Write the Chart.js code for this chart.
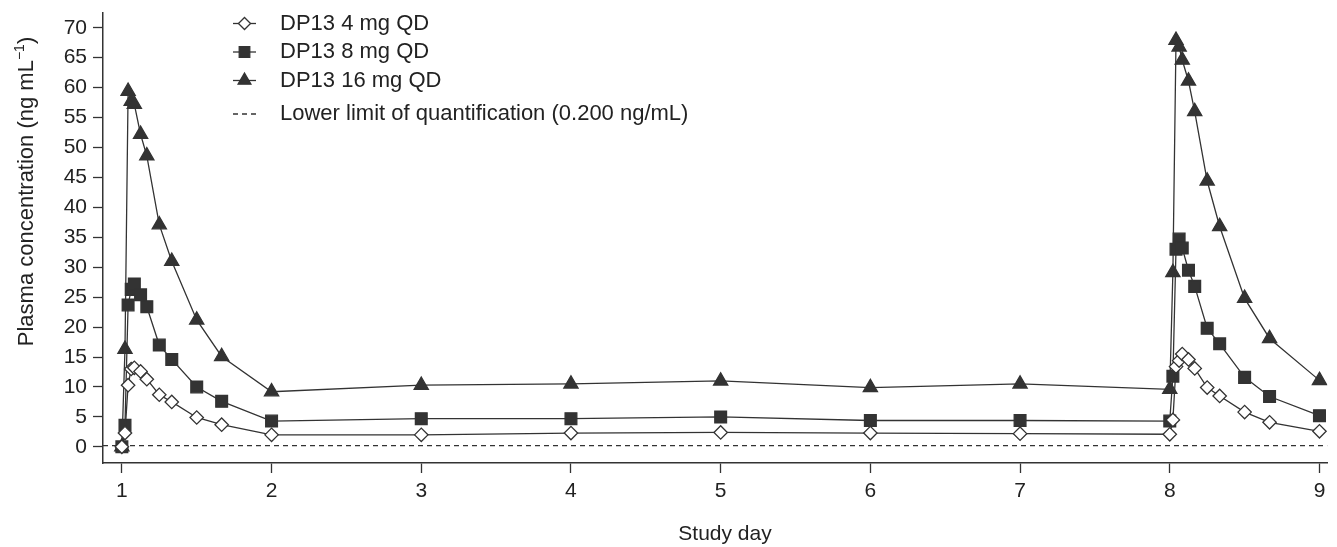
<!DOCTYPE html>
<html>
<head>
<meta charset="utf-8">
<script src="https://cdn.jsdelivr.net/npm/chart.js@4.4.0/dist/chart.umd.min.js"></script>
<style>
  html, body { margin: 0; background: #fff; }
  #wrap { width: 1337px; height: 547px; }
</style>
</head>
<body>
<div id="wrap"><canvas id="chart" width="1337" height="547"></canvas></div>
<script>
// Sampling scheme: day 1 profile (hours after dose), trough days, day 8 profile
const doseHours  = [0, 0.5, 1, 1.5, 2, 3, 4, 6, 8, 12, 16, 24];
const troughDays = [3, 4, 5, 6, 7];
const xTicks     = [1, 2, 3, 4, 5, 6, 7, 8, 9];
const yTicks     = [0, 5, 10, 15, 20, 25, 30, 35, 40, 45, 50, 55, 60, 65, 70];
const lloqValue  = 0.2;

// DP13 4 mg QD (ng/mL)
const dp4Day1   = [0, 2.3, 10.3, 13.0, 13.2, 12.6, 11.3, 8.7, 7.5, 4.9, 3.7, 2.0];
const dp4Trough = [2.0, 2.3, 2.4, 2.3, 2.2];
const dp4Day8   = [2.1, 4.5, 13.4, 14.4, 15.5, 14.6, 13.1, 9.9, 8.5, 5.8, 4.1, 2.6];

// DP13 8 mg QD
const dp8Day1   = [0, 3.6, 23.7, 26.3, 27.2, 25.4, 23.4, 17.0, 14.6, 10.0, 7.6, 4.3];
const dp8Trough = [4.7, 4.7, 5.0, 4.4, 4.4];
const dp8Day8   = [4.3, 11.8, 33.0, 34.7, 33.2, 29.5, 26.8, 19.8, 17.2, 11.6, 8.4, 5.2];

// DP13 16 mg QD
const dp16Day1   = [0, 16.3, 59.4, 57.7, 57.2, 52.2, 48.6, 37.1, 31.0, 21.2, 15.1, 9.2];
const dp16Trough = [10.3, 10.5, 11.0, 9.9, 10.5];
const dp16Day8   = [9.6, 29.1, 67.9, 66.8, 64.6, 61.1, 56.0, 44.4, 36.8, 24.8, 18.1, 11.1];

const FONT = "'Liberation Sans', Arial, Helvetica, sans-serif";
const INK  = '#333';
const X_MIN = 0.874, X_MAX = 9.053;
const Y_MIN = -2.7,  Y_MAX = 72.46;

function profile(day1, trough, day8) {
  const pts = [];
  doseHours.forEach((h, i) => pts.push({ x: 1 + h / 24, y: day1[i] }));
  troughDays.forEach((d, i) => pts.push({ x: d, y: trough[i] }));
  doseHours.forEach((h, i) => pts.push({ x: 8 + h / 24, y: day8[i] }));
  return pts;
}

const series = [
  { label: 'DP13 4 mg QD',  data: profile(dp4Day1, dp4Trough, dp4Day8),    style: 'rectRot',  r: 6.7, fill: '#fff' },
  { label: 'DP13 8 mg QD',  data: profile(dp8Day1, dp8Trough, dp8Day8),    style: 'rect',     r: 8.3, fill: INK },
  { label: 'DP13 16 mg QD', data: profile(dp16Day1, dp16Trough, dp16Day8), style: 'triangle', r: 8.2, fill: INK }
];

const datasets = series.map(s => ({
  label: s.label,
  data: s.data,
  borderColor: INK,
  borderWidth: 1.3,
  pointStyle: s.style,
  pointRadius: s.r,
  pointHoverRadius: s.r,
  pointBackgroundColor: s.fill,
  pointBorderColor: INK,
  pointBorderWidth: 1.3,
  tension: 0,
  fill: false
}));

datasets.push({
  label: 'Lower limit of quantification (0.200 ng/mL)',
  data: [{ x: X_MIN, y: lloqValue }, { x: X_MAX, y: lloqValue }],
  borderColor: INK,
  borderWidth: 1.3,
  borderDash: [5, 4],
  pointRadius: 0,
  fill: false
});

function drawMarker(ctx, style, x, y, r, fill) {
  ctx.beginPath();
  if (style === 'rectRot') {
    ctx.moveTo(x - r, y); ctx.lineTo(x, y - r); ctx.lineTo(x + r, y); ctx.lineTo(x, y + r);
    ctx.closePath();
  } else if (style === 'rect') {
    const s = r * Math.SQRT1_2;
    ctx.rect(x - s, y - s, 2 * s, 2 * s);
  } else {
    ctx.moveTo(x, y - r); ctx.lineTo(x + r * 0.866, y + r / 2); ctx.lineTo(x - r * 0.866, y + r / 2);
    ctx.closePath();
  }
  ctx.fillStyle = fill; ctx.fill();
  ctx.lineWidth = 1.3; ctx.strokeStyle = INK; ctx.stroke();
}

// legend, axis titles drawn by hand (line-with-marker samples, superscript)
const annotations = {
  id: 'annotations',
  afterDraw(chart) {
    const ctx = chart.ctx;
    ctx.save();
    const rows = [23.5, 52, 80.5];
    const lx0 = 233, lx1 = 256, tx = 280;
    ctx.font = '22px ' + FONT;
    ctx.textBaseline = 'middle';
    ctx.textAlign = 'left';
    series.forEach((s, i) => {
      const y = rows[i];
      ctx.beginPath(); ctx.moveTo(lx0, y); ctx.lineTo(lx1, y);
      ctx.lineWidth = 1.3; ctx.strokeStyle = INK; ctx.stroke();
      drawMarker(ctx, s.style, (lx0 + lx1) / 2, y, s.r * 0.9, s.fill);
      ctx.fillStyle = '#222';
      ctx.fillText(s.label, tx, y);
    });
    const ly = 114;
    ctx.beginPath(); ctx.setLineDash([5, 4]); ctx.moveTo(lx0, ly); ctx.lineTo(lx1 + 2, ly);
    ctx.lineWidth = 1.3; ctx.stroke(); ctx.setLineDash([]);
    ctx.fillText(datasets[3].label, tx, ly);

    // x axis title
    ctx.font = '21px ' + FONT;
    ctx.textAlign = 'center';
    ctx.fillText('Study day', 725, 534);
    ctx.textAlign = 'left';

    // y axis title
    const main = 'Plasma concentration (ng mL', sup = '\u22121', tail = ')';
    ctx.translate(27, 191.5);
    ctx.rotate(-Math.PI / 2);
    ctx.font = '22px ' + FONT;
    const wMain = ctx.measureText(main).width, wTail = ctx.measureText(tail).width;
    ctx.font = '14px ' + FONT;
    const wSup = ctx.measureText(sup).width;
    let x = -(wMain + wSup + wTail) / 2;
    ctx.font = '22px ' + FONT;
    ctx.fillText(main, x, 0); x += wMain;
    ctx.font = '14px ' + FONT;
    ctx.fillText(sup, x, -7); x += wSup;
    ctx.font = '22px ' + FONT;
    ctx.fillText(tail, x, 0);
    ctx.restore();
  }
};

new Chart(document.getElementById('chart').getContext('2d'), {
  type: 'line',
  data: { datasets },
  plugins: [annotations],
  options: {
    responsive: false,
    animation: false,
    devicePixelRatio: 1,
    layout: { padding: { top: 13, right: 0, bottom: 0, left: 0 } },
    plugins: { legend: { display: false }, tooltip: { enabled: false } },
    scales: {
      x: {
        type: 'linear',
        min: X_MIN,
        max: X_MAX,
        afterFit: s => { s.height = 84; s.paddingLeft = 0; s.paddingRight = 0; },
        afterBuildTicks: s => { s.ticks = xTicks.map(v => ({ value: v })); },
        border: { display: true, color: INK, width: 1.5 },
        grid: { drawOnChartArea: false, drawTicks: true, tickLength: 10, tickColor: INK, tickWidth: 1.3 },
        ticks: { color: '#222', padding: 6, maxRotation: 0, font: { family: FONT, size: 21 } }
      },
      y: {
        type: 'linear',
        min: Y_MIN,
        max: Y_MAX,
        afterFit: s => { s.width = 103; s.paddingTop = 0; s.paddingBottom = 0; },
        afterBuildTicks: s => { s.ticks = yTicks.map(v => ({ value: v })); },
        border: { display: true, color: INK, width: 1.5 },
        grid: { drawOnChartArea: false, drawTicks: true, tickLength: 10, tickColor: INK, tickWidth: 1.3 },
        ticks: { color: '#222', padding: 6, font: { family: FONT, size: 21 } }
      }
    }
  }
});
</script>
</body>
</html>
